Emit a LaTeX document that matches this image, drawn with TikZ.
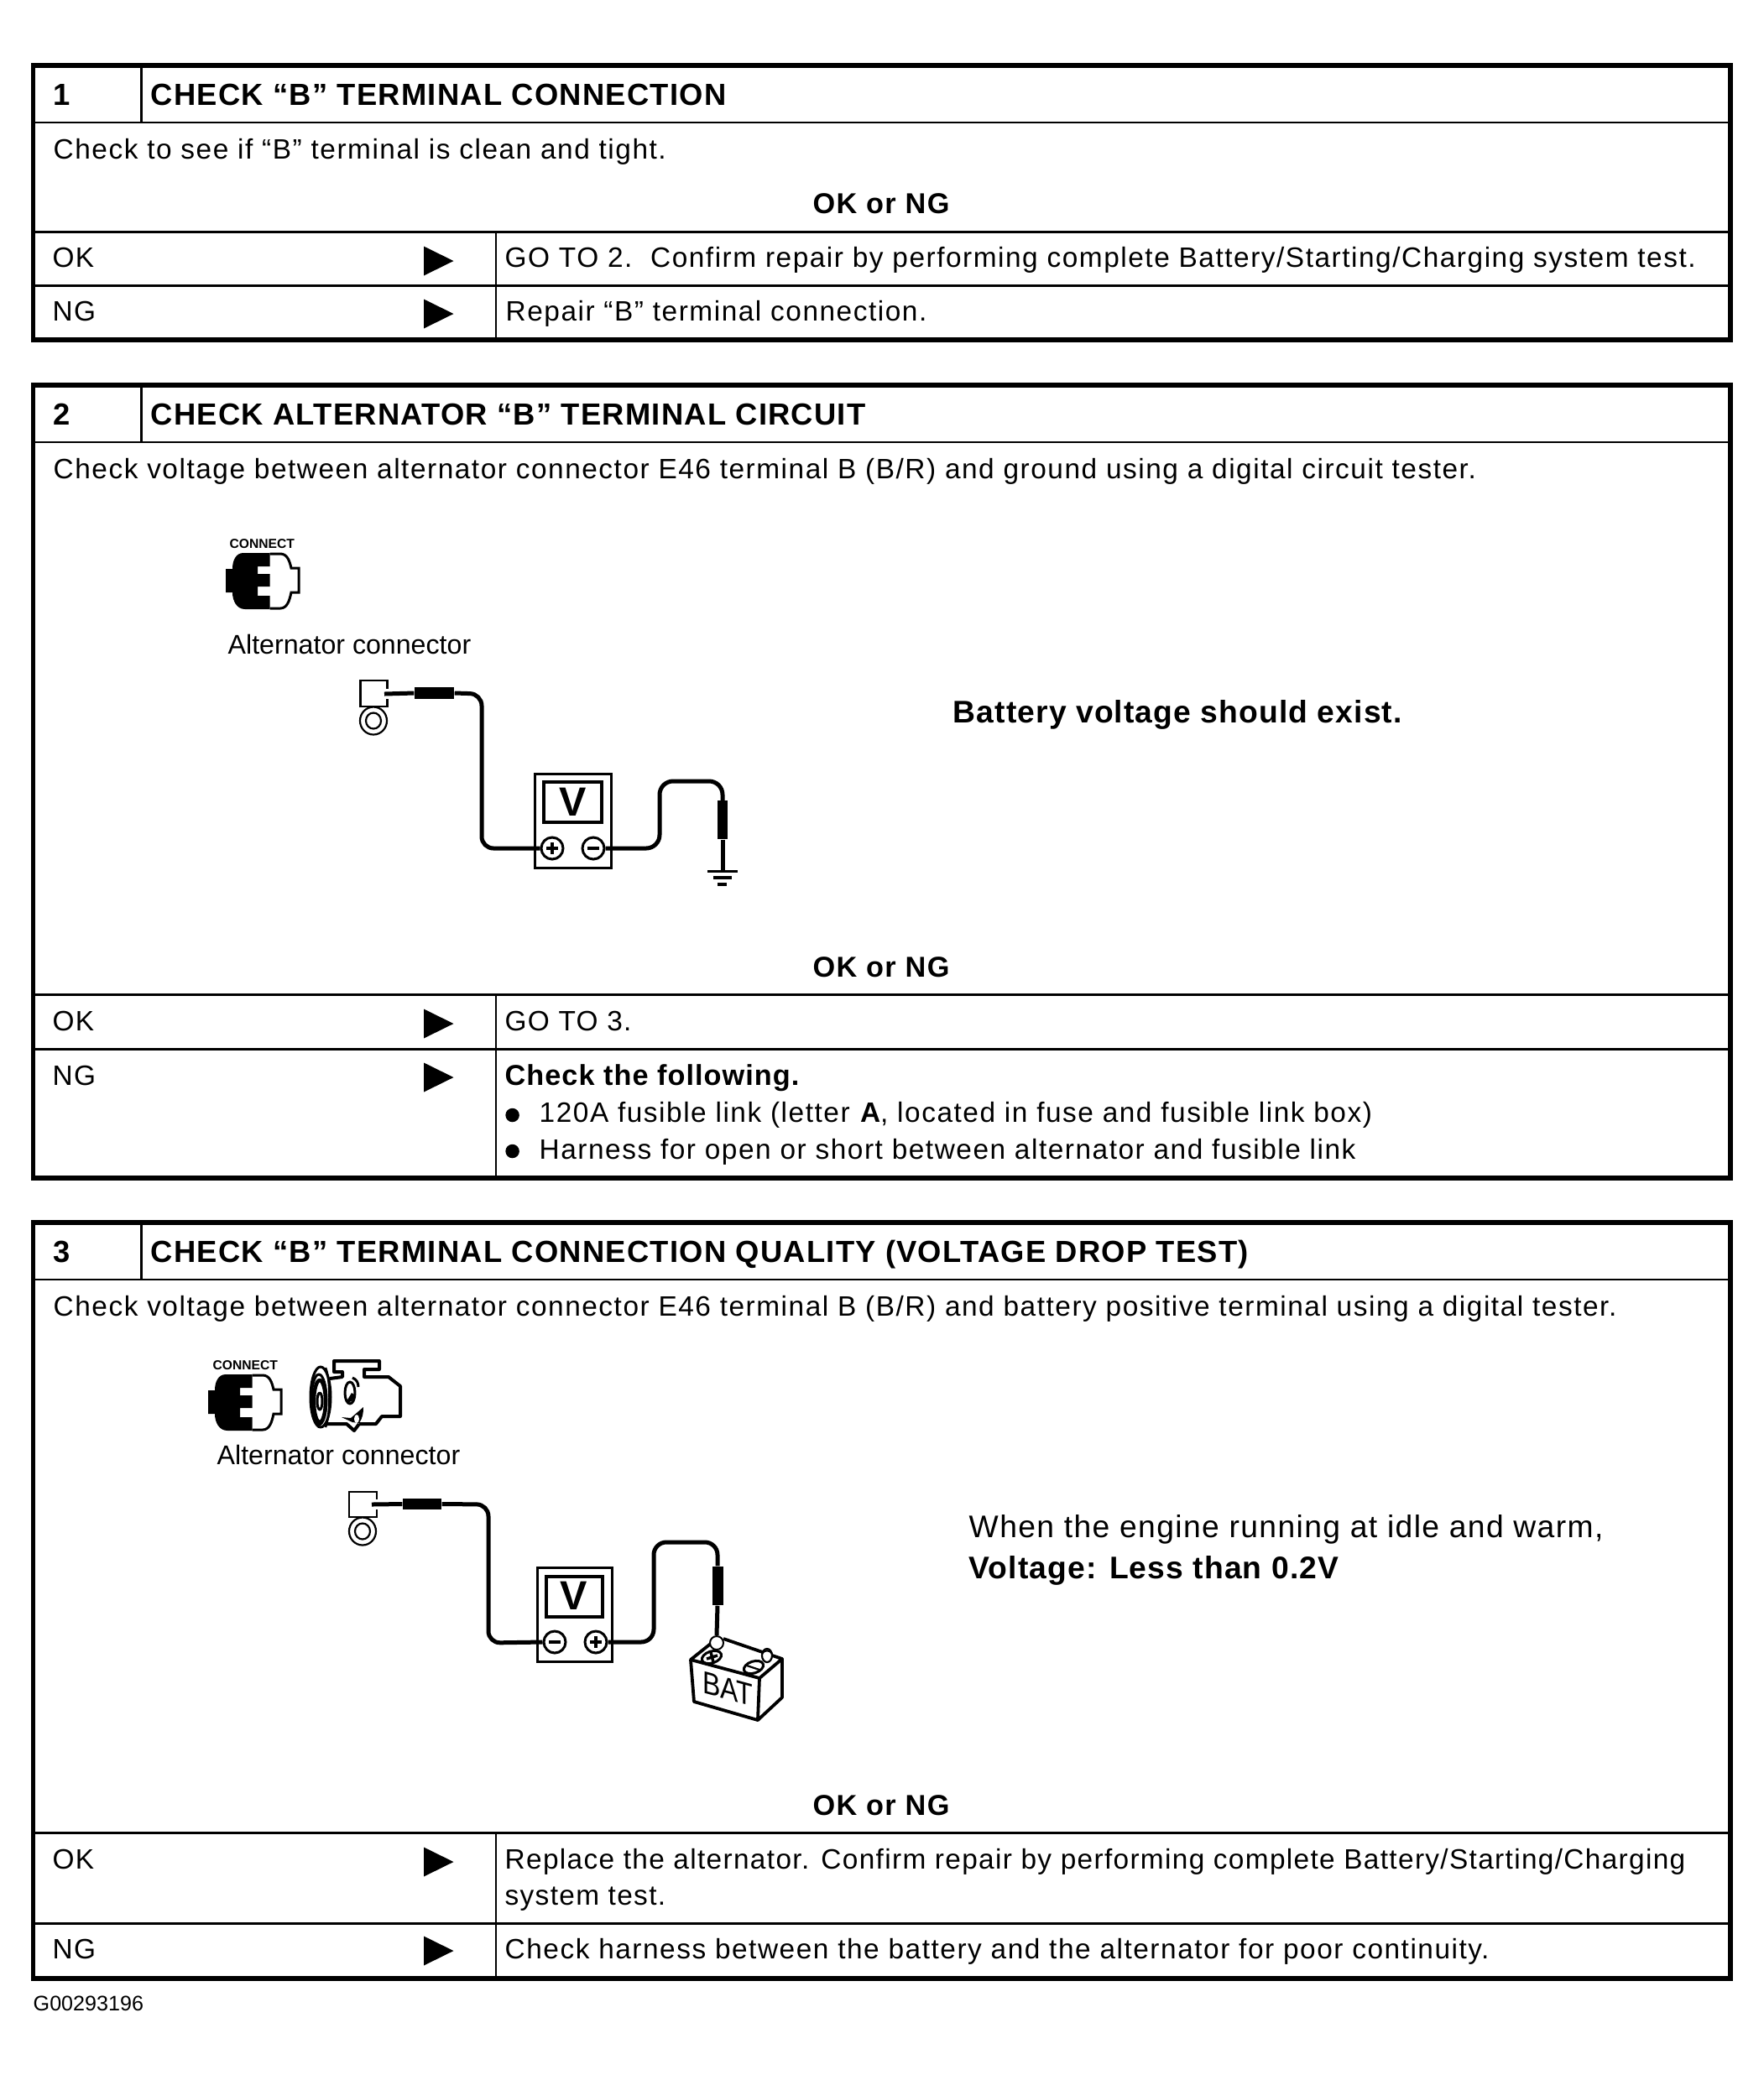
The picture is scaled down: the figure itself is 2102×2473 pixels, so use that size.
\documentclass[tikz,border=0pt]{standalone}
\usepackage{fontspec}
\usetikzlibrary{shapes.geometric}
\setmainfont[LetterSpace=4.6]{Liberation Sans}
\newfontfamily\sphfont[LetterSpace=3]{Liberation Sans}
\newfontfamily\headfont[LetterSpace=3.4]{Liberation Sans}
\newfontfamily\widefont[LetterSpace=3.7]{Liberation Sans}
\newfontfamily\midfont[LetterSpace=4]{Liberation Sans}
\newfontfamily\plainfont{Liberation Sans}
\tikzset{
 x=0.1mm,y=-0.1mm,
 frame/.style={line width=0.58mm,draw=black},
 rowrule/.style={line width=0.3mm,draw=black},
 hrule/.style={line width=0.25mm,draw=black},
 colrule/.style={line width=0.17mm,draw=black},
 hdrcol/.style={line width=0.27mm,draw=black},
 txt/.style={anchor=base west,inner sep=0pt,font=\fontsize{9.5}{11}\selectfont},
 txtm/.style={txt,font=\fontsize{9.5}{11}\midfont\selectfont},
 btxt/.style={txt,font=\fontsize{9.75}{11}\sphfont\selectfont\bfseries},
 htxt/.style={txt,font=\fontsize{10.35}{12}\headfont\selectfont\bfseries},
 cmid/.style={txt,anchor=base,font=\fontsize{9.75}{11}\midfont\selectfont\bfseries},
 big/.style={txt,font=\fontsize{10.6}{12}\widefont\selectfont},
 bigb/.style={txt,font=\fontsize{10.6}{12}\sphfont\selectfont\bfseries},
 lbl/.style={txt,font=\fontsize{9.15}{11}\plainfont\selectfont},
 fnote/.style={txt,font=\fontsize{7.15}{8}\plainfont\selectfont},
 conn/.style={txt,font=\fontsize{4.45}{5}\plainfont\selectfont\bfseries},
 vee/.style={anchor=center,inner sep=0pt,font=\fontsize{13.8}{15}\plainfont\selectfont\bfseries},
 tri/.style={fill=black,draw=none},
 wire/.style={line width=0.5mm,draw=black,line join=round},
 sleeve/.style={fill=black,draw=none},
 fine/.style={line width=0.22mm,draw=black},
 meter/.style={line width=0.3mm,draw=black},
 screenbox/.style={line width=0.38mm,draw=black},
 dotmark/.style={circle,fill=black,inner sep=0pt,minimum size=1.65mm},
 port/.style={circle,draw=black,line width=0.3mm,inner sep=0pt,minimum size=2.6mm},
 batline/.style={line width=0.38mm,line join=round,draw=black},
}
\newcommand{\playtri}[2]{\fill[tri] (#1,#2-17.5) -- (#1+35.5,#2) -- (#1,#2+17.5) -- cycle;}
\newcommand{\connicon}[2]{%
 \begin{scope}[shift={(#1,#2)}]
 \fill[black] (321.5,659) -- (290,659) .. controls (281,659) and (277,668) .. (277,678) -- (269,678) -- (269,706) -- (277,706) .. controls (277,716) and (282,726) .. (292,726) -- (321.5,726) -- (321.5,710) -- (307,710) -- (307,699) -- (321.5,699) -- (321.5,684) -- (307,684) -- (307,675) -- (321.5,675) -- cycle;
 \draw[line width=0.3mm] (321.5,660) -- (334,660) .. controls (342,660) and (345,668) .. (347,677) -- (356,677) -- (356,706) -- (347,706) .. controls (345,716) and (342,725) .. (334,725) -- (321.5,725);
 \end{scope}}
\begin{document}
\begin{tikzpicture}
\useasboundingbox[fill=white] (0,0) rectangle (2102,2473);
% ---------- Table 1
\draw[frame] (39.5,78) rectangle (2062,405);
\draw[hrule] (39.5,146) -- (2062,146);
\draw[hdrcol] (168.5,78) -- (168.5,146);
\draw[rowrule] (39.5,276) -- (2062,276);
\draw[rowrule] (39.5,340) -- (2062,340);
\draw[colrule] (591,276) -- (591,405);
\node[htxt] (h1n) at (63,125) {1};
\node[htxt] (h1t) at (179,125) {CHECK “B” TERMINAL CONNECTION};
\node[txt] (b1) at (63,189) {Check to see if “B” terminal is clean and tight.};
\node[cmid] (q1) at (1050,254.5) {OK or NG};
\node[txtm] (ok1) at (62,318) {OK};
\node[txtm] (ng1) at (62,382) {NG};
\playtri{505}{311}\playtri{505}{374}
\node[txt] (r11) at (601,318) {GO TO 2.\ \ Confirm repair by performing complete Battery/Starting/Charging system test.};
\node[txt] (r12) at (602,382) {Repair “B” terminal connection.};
% ---------- Table 2
\draw[frame] (39.5,459) rectangle (2062,1404);
\draw[hrule] (39.5,527) -- (2062,527);
\draw[hdrcol] (168.5,459) -- (168.5,527);
\draw[rowrule] (39.5,1185) -- (2062,1185);
\draw[rowrule] (39.5,1250) -- (2062,1250);
\draw[colrule] (591,1185) -- (591,1404);
\node[htxt] (h2n) at (63,506) {2};
\node[htxt] (h2t) at (179,506) {CHECK ALTERNATOR “B” TERMINAL CIRCUIT};
\node[txt] (b2) at (63,570) {Check voltage between alternator connector E46 terminal B (B/R) and ground using a digital circuit tester.};
\node[bigb] (res2) at (1135,861) {Battery voltage should exist.};
\node[cmid] (q2) at (1050,1164.5) {OK or NG};
\node[txtm] (ok2) at (62,1228) {OK};
\node[txtm] (ng2) at (62,1293) {NG};
\playtri{505}{1220}\playtri{505}{1284}
\node[txtm] (r21) at (601,1228) {GO TO 3.};
\node[btxt] (r22) at (601,1293) {Check the following.};
\node[dotmark] (bu1) at (610.6,1329) {};
\node[dotmark] (bu2) at (610.6,1372) {};
\node[txt] (r23) at (642,1337) {120A fusible link (letter \textbf{A}, located in fuse and fusible link box)};
\node[txt] (r24) at (642,1381) {Harness for open or short between alternator and fusible link};
% ---------- Diagram A
\node[conn] (ca) at (273,653) {CONNECT};
\connicon{0}{0}
\node[lbl] (la) at (271,779) {Alternator connector};
\node[inner sep=0pt,minimum width=3.2mm,minimum height=3.1mm,line width=0.22mm,draw=black] (tA) at (445.5,826.5) {};
\fill[white] (460,821) rectangle (465,833);
\draw[fine] (445,859) ellipse (16 and 16.5);
\draw[fine] (445,859) ellipse (9 and 9.5);
\coordinate (wA0) at (458,827);
\node[sleeve,minimum width=4.7mm,minimum height=1.4mm,inner sep=0pt] (sA) at (517.5,826) {};
\node[inner sep=0pt,minimum width=9.05mm,minimum height=11.2mm,meter,fill=white] (mA) at (683,978) {};
\node[inner sep=0pt,minimum width=6.9mm,minimum height=4.8mm,screenbox] (sc1) at (682.5,956) {};
\node[vee] (va) at (683,956) {V};
\node[port] (pA) at (658,1011) {};
\node[port] (nA) at (707,1011) {};
\draw[line width=0.4mm] (651,1011) -- (665,1011) (658,1004) -- (658,1018);
\draw[line width=0.4mm] (700,1011) -- (714,1011);
\draw[wire] (wA0) -- (sA.west);
\draw[wire,rounded corners=1.4mm] (sA.east) -- (574,827) -- (574,1011) -- (pA.west);
\draw[wire,rounded corners=1.6mm] (nA.east) -- (786,1011) -- (786,931) -- (861,931) -- (861,955);
\node[sleeve,minimum width=1.2mm,minimum height=4.6mm,inner sep=0pt] (gsl) at (861,977) {};
\coordinate (g0) at (861,1038);
\draw[wire] (gsl.south) -- (g0);
\draw[line width=0.3mm] (843,1038) -- (879,1038);
\draw[line width=0.4mm] (850,1046) -- (872,1046);
\draw[line width=0.4mm] (855,1054) -- (866,1054);
% ---------- Table 3
\draw[frame] (39.5,1457) rectangle (2062,2358);
\draw[hrule] (39.5,1525) -- (2062,1525);
\draw[hdrcol] (168.5,1457) -- (168.5,1525);
\draw[rowrule] (39.5,2184) -- (2062,2184);
\draw[rowrule] (39.5,2292) -- (2062,2292);
\draw[colrule] (591,2184) -- (591,2358);
\node[htxt] (h3n) at (63,1504) {3};
\node[htxt] (h3t) at (179,1504) {CHECK “B” TERMINAL CONNECTION QUALITY (VOLTAGE DROP TEST)};
\node[txt] (b3) at (63,1568) {Check voltage between alternator connector E46 terminal B (B/R) and battery positive terminal using a digital tester.};
\node[big] (res3a) at (1154,1832) {When the engine running at idle and warm,};
\node[bigb] (res3b) at (1154,1881) {Voltage: Less than 0.2V};
\node[cmid] (q3) at (1050,2163.5) {OK or NG};
\node[txtm] (ok3) at (62,2227) {OK};
\node[txtm] (ng3) at (62,2334) {NG};
\playtri{505}{2219}\playtri{505}{2325}
\node[txtm] (r31) at (601,2227) {Replace the alternator. Confirm repair by performing complete Battery/Starting/Charging};
\node[txtm] (r32) at (601,2270) {system test.};
\node[txt] (r33) at (601,2334) {Check harness between the battery and the alternator for poor continuity.};
\node[fnote] (fn) at (39,2396) {G00293196};
% ---------- Diagram B
\node[conn] (cb) at (253,1632) {CONNECT};
\connicon{-21}{979}
% alternator sketch
\begin{scope}[line width=0.3mm,line join=round]
\draw[line width=0.4mm] (393,1643) -- (408,1641) -- (408,1635) -- (398,1635) -- (398,1622) -- (452,1622) -- (452,1632) -- (434,1632) -- (434,1641) -- (463,1641) -- (477,1652) -- (477,1688) -- (455,1688) -- (448,1697) -- (428,1697);
\draw[line width=0.4mm] (388,1697) -- (413,1697) -- (422,1705) -- (428,1697);
\draw (382,1665) ellipse (12 and 36);
\draw (380,1668) ellipse (9 and 30);
\draw[line width=0.45mm] (381,1670) ellipse (7 and 25);
\draw (381,1670) ellipse (3 and 10);
\draw[line width=0.25mm] (388,1630) .. controls (394,1645) and (394,1685) .. (388,1701);
\draw (417,1660) ellipse (6 and 13);
\fill (413,1670) -- (419,1660) -- (422,1662) .. controls (421,1670) and (417,1673) .. (413,1670) -- cycle;
\draw (420,1642) .. controls (425,1644) and (427,1648) .. (427,1653);
\fill (407,1689) -- (418,1690) -- (433,1677) .. controls (433,1685) and (432,1690) .. (428,1696) -- (420,1695) -- cycle;
\fill[white] (425,1691) ellipse (3 and 5);
\end{scope}
\node[lbl] (lb) at (258,1745) {Alternator connector};
\node[inner sep=0pt,minimum width=3.3mm,minimum height=3mm,line width=0.22mm,draw=black] (tB) at (432.5,1793) {};
\fill[white] (447,1787) rectangle (452,1799);
\draw[fine] (432,1825) ellipse (16 and 16.5);
\draw[fine] (432,1825) ellipse (9 and 9.5);
\coordinate (wB0) at (443,1793);
\node[sleeve,minimum width=4.6mm,minimum height=1.35mm,inner sep=0pt] (sB) at (503,1792.5) {};
\node[inner sep=0pt,minimum width=8.9mm,minimum height=11.2mm,meter,fill=white] (mB) at (685,1924) {};
\node[inner sep=0pt,minimum width=6.7mm,minimum height=4.8mm,screenbox] (sc2) at (684.5,1903) {};
\node[vee] (vb) at (684,1902) {V};
\node[port] (nB) at (661,1957) {};
\node[port] (pB) at (710,1957) {};
\draw[line width=0.4mm] (654,1957) -- (668,1957);
\draw[line width=0.4mm] (703,1957) -- (717,1957) (710,1950) -- (710,1964);
\draw[wire] (wB0) -- (sB.west);
\draw[wire,rounded corners=1.4mm] (sB.east) -- (582,1793) -- (582,1958) -- (nB.west);
\node[sleeve,minimum width=1.3mm,minimum height=4.6mm,inner sep=0pt] (bsl) at (855,1890) {};
\draw[wire,rounded corners=1.5mm] (pB.east) -- (779,1957) -- (779,1838) -- (855,1838) -- (bsl.north);
% battery
\draw[batline] (848,1958) -- (823,1978) -- (905,2000) -- (932,1977) -- (862,1953);
\draw[batline] (823,1978) -- (827,2028) -- (903,2050) -- (905,2000);
\draw[batline] (932,1977) -- (932,2023) -- (903,2050);
\node[anchor=center,inner sep=0pt,transform shape,yslant=-0.27,xscale=0.85,font=\fontsize{10.7}{12}\plainfont\selectfont] (bat) at (867,2013) {BAT};
\node[ellipse,draw=black,line width=0.2mm,inner sep=0pt,minimum width=1.6mm,minimum height=1.6mm,fill=white] (tp) at (854,1958) {};
\draw[wire] (bsl.south) -- (tp.north);
\draw[line width=0.3mm,rotate around={18:(848,1975)}] (848,1975) ellipse (12 and 7);
\draw[line width=0.35mm] (842,1977) -- (855,1973) (847,1969) -- (850,1981);
\draw[line width=0.3mm,rotate around={18:(898,1987)}] (898,1987) ellipse (12 and 7);
\draw[fine] (890,1985) -- (905,1990);
\draw[fine,fill=white] (914,1973) ellipse (6 and 8);
\draw[fine] (908,1971) .. controls (910,1966) and (918,1966) .. (920,1971);
\end{tikzpicture}
\end{document}
